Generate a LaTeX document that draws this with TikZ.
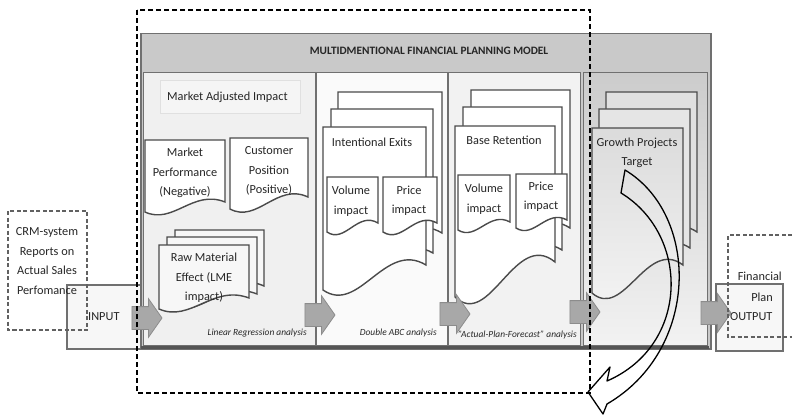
\documentclass[tikz,border=0pt]{standalone}
\usepackage{fontspec}
\setmainfont{Carlito}
\usetikzlibrary{shapes.arrows}

\definecolor{edge}{HTML}{707070}
\definecolor{docgray}{HTML}{4A4A4A}
\definecolor{txt}{HTML}{262626}
\definecolor{band}{HTML}{C9C9C9}
\definecolor{arrowfill}{HTML}{A8A8A8}
\definecolor{arrowedge}{HTML}{8C8C8C}
\definecolor{baseline}{HTML}{555555}

% Document symbol: flat top, wavy bottom.
% #2,#3 = top-left x,y ; #4 = right x ; #5 = bottom y at left ; #6 = bottom y at right
\newcommand\docshape[6][]{%
  \pgfmathsetmacro\dw{#4-#2}%
  \pgfmathsetmacro\dca{#4-0.4*\dw}%
  \pgfmathsetmacro\dcb{#2+0.35*\dw}%
  \pgfmathsetmacro\dk{0.8*(#5-#6)+5}%
  \pgfmathsetmacro\dya{#6-\dk}%
  \pgfmathsetmacro\dyb{#5+\dk}%
  \draw[docline,#1] (#2,#3) -- (#4,#3) -- (#4,#6)
    .. controls (\dca,\dya) and (\dcb,\dyb) .. (#2,#5) -- cycle;}

\tikzset{
  docline/.style={draw=docgray, line width=1.4pt, fill=white},
  iobox/.style={draw=edge, line width=1.5pt, fill=white!97!black, inner sep=0pt},
  frame/.style={draw=edge, line width=1.5pt, fill=band, inner sep=0pt},
  panel/.style={draw=edge, line width=1.2pt, inner sep=0pt, anchor=north west},
  lbl/.style={text=txt, font=\fontsize{12.3}{19.5}\selectfont, align=center, inner sep=0pt},
  note/.style={text=txt, font=\fontsize{9.4}{11}\selectfont\itshape, inner sep=0pt},
  titletext/.style={text=txt, font=\fontsize{11.3}{13}\selectfont\bfseries, inner sep=0pt},
  blockarrow/.style={single arrow, draw=arrowedge, fill=arrowfill, line width=0.8pt,
    minimum height=30pt, inner xsep=0pt, inner ysep=11pt,
    single arrow head extend=8pt, single arrow tip angle=110},
  outerdash/.style={draw=black, line width=1.6pt, dash pattern=on 5pt off 3pt},
  sidedash/.style={draw=black!62, line width=1.3pt, dash pattern=on 4pt off 2.5pt},
}

\begin{document}
\begin{tikzpicture}[x=1pt,y=-1pt]
\useasboundingbox (0,0) rectangle (792,417);

% input and output boxes
\node[iobox, minimum width=77pt, minimum height=64pt, anchor=north west] (inbox) at (66,284) {};
\node[iobox, minimum width=67pt, minimum height=67pt, anchor=north west] (outbox) at (715,283) {};

% model frame with title band
\node[frame, minimum width=570pt, minimum height=315pt, anchor=north west] (model) at (140,33) {};
\node[titletext] (mtitle) at (429,51) {MULTIDMENTIONAL FINANCIAL PLANNING MODEL};

% four analysis columns
\node[panel, fill=black!6, minimum width=172pt, minimum height=273pt] (p1) at (143,72) {};
\node[panel, fill=white!98!black, minimum width=131pt, minimum height=273pt] (p2) at (316,72) {};
\node[panel, fill=black!5, minimum width=132pt, minimum height=273pt] (p3) at (448,72) {};
\node[panel, top color=black!20, bottom color=black!5, minimum width=124pt, minimum height=273pt] (p4) at (583,72) {};
\draw[line width=3pt, draw=baseline] (141,347) -- (709,347);

% column 1: market adjusted impact
\node[draw=black!12, fill=black!4, line width=0.8pt, minimum width=140pt, minimum height=33pt,
      anchor=north west, inner sep=0pt] (madjbox) at (160,80) {};
\node[lbl, anchor=west] (madj) at (167,97) {Market Adjusted Impact};

\docshape{145}{140}{225}{212}{202}
\node[lbl] (mperf) at (185,173) {Market\\Performance\\(Negative)};
\docshape{230}{138}{308}{209}{197}
\node[lbl] (cpos) at (269,171) {Customer\\Position\\(Positive)};

\docshape[fill=black!3]{175}{230}{264}{300}{286}
\docshape[fill=black!3]{167}{237}{257}{306}{294}
\docshape[fill=black!3]{159}{245}{249}{309}{298}
\node[lbl] (rawmat) at (204,278) {Raw Material\\Effect (LME\\impact)};
\node[note, anchor=east] (linreg) at (307,333) {Linear Regression analysis};

% column 2: intentional exits
\docshape{338}{92}{442}{258}{233}
\docshape{331}{109}{433}{276}{253}
\docshape{323}{127}{426}{290}{265}
\node[lbl] (iexits) at (372,142) {Intentional Exits};
\docshape{327}{177}{378}{232}{223}
\node[lbl] (ivol) at (351,201) {Volume\\impact};
\docshape{383}{177}{437}{232}{223}
\node[lbl] (iprice) at (409,201) {Price\\impact};
\node[note, anchor=east] (dabc) at (437,333) {Double ABC analysis};

% column 3: base retention
\docshape{471}{90}{570}{254}{228}
\docshape{463}{107}{562}{275}{250}
\docshape{455}{126}{555}{297}{262}
\node[lbl] (bret) at (504,140) {Base Retention};
\docshape{458}{175}{510}{230}{222}
\node[lbl] (bvol) at (484,199) {Volume\\impact};
\docshape{516}{174}{567}{228}{220}
\node[lbl] (bprice) at (541,197) {Price\\impact};
\node[note, anchor=east] (apf) at (577,335) {"Actual-Plan-Forecast" analysis};

% column 4: growth projects
\docshape[fill=black!12]{606}{92}{697}{257}{232}
\docshape[fill=black!10]{599}{109}{690}{272}{248}
\docshape[top color=black!14, bottom color=black!4]{592}{128}{683}{293}{265}
\node[lbl] (grow) at (637,153) {Growth Projects\\Target};

% flow arrows between the stages
\node[blockarrow] (a1) at (143,318) {};
\node[blockarrow] (a2) at (316,315) {};
\node[blockarrow] (a3) at (451,314) {};
\node[blockarrow] (a4) at (581,312) {};
\node[blockarrow] (a5) at (712,313) {};

% source and result notes
\draw[sidedash] (8,211) rectangle (87,330);
\node[lbl] (crm) at (47,261) {CRM-system\\Reports on\\Actual Sales\\Perfomance};
\node[lbl, anchor=west] (inlbl) at (88,317) {INPUT};

\draw[sidedash] (792,235) -- (728,235) -- (728,337) -- (792,337);
\node[lbl, anchor=east] (fin) at (782,276) {Financial};
\node[lbl, anchor=east] (plan) at (773,297) {Plan};
\node[lbl, anchor=west] (outlbl) at (730,317) {OUTPUT};

% scope of the planning model
\draw[outerdash] (137,10) rectangle (590,393);

% feedback arrow from the growth target back out of the model
\coordinate (tailA) at (625,170);
\coordinate (tailB) at (621,193);
\coordinate (wingLowIn) at (607,404);
\coordinate (wingLow) at (603,414);
\coordinate (tip) at (588,392);
\coordinate (wingUp) at (610,367);
\coordinate (wingUpIn) at (607,381);
\draw[black, line width=1.3pt, line join=round]
  (tailA) .. controls (700,215) and (700,350) .. (wingLowIn)
  -- (wingLow) -- (tip) -- (wingUp) -- (wingUpIn)
  .. controls (690,345) and (690,235) .. (tailB) -- cycle;
\end{tikzpicture}
\end{document}
